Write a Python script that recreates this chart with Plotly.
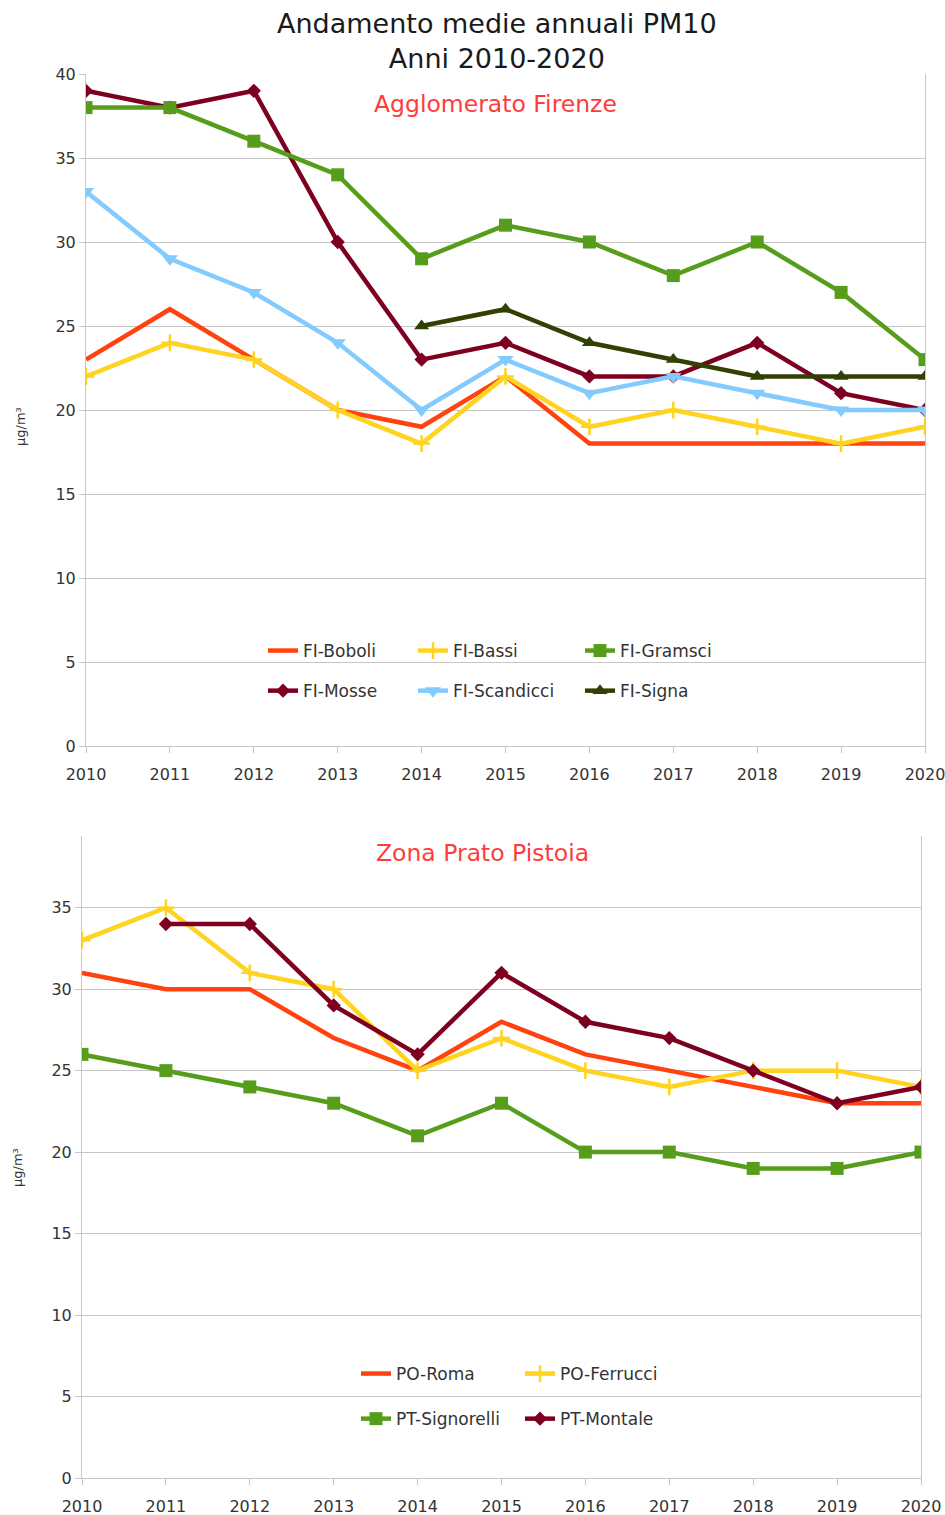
import plotly.graph_objects as go

years = list(range(2010, 2021))

# Agglomerato Firenze (µg/m³)
fi_boboli = [23, 26, 23, 20, 19, 22, 18, 18, 18, 18, 18]
fi_bassi = [22, 24, 23, 20, 18, 22, 19, 20, 19, 18, 19]
fi_gramsci = [38, 38, 36, 34, 29, 31, 30, 28, 30, 27, 23]
fi_mosse = [39, 38, 39, 30, 23, 24, 22, 22, 24, 21, 20]
fi_scandicci = [33, 29, 27, 24, 20, 23, 21, 22, 21, 20, 20]
fi_signa = [None, None, None, None, 25, 26, 24, 23, 22, 22, 22]

# Zona Prato Pistoia (µg/m³)
po_roma = [31, 30, 30, 27, 25, 28, 26, 25, 24, 23, 23]
po_ferrucci = [33, 35, 31, 30, 25, 27, 25, 24, 25, 25, 24]
pt_signorelli = [26, 25, 24, 23, 21, 23, 20, 20, 19, 19, 20]
pt_montale = [None, 34, 34, 29, 26, 31, 28, 27, 25, 23, 24]

# the body margin is removed by a post script, so figure pixels == page pixels
OFF = 0
W, H = 945, 1515
FONT = "DejaVu Sans"
GRID = "#c6c6c6"
TXT = "#333333"


def px_x(p):
    return (p - OFF) / W


def px_y(p):
    return 1 - (p - OFF) / H


C_ORANGE = "#ff420e"
C_YELLOW = "#ffd320"
C_GREEN = "#579d1c"
C_DRED = "#7e0021"
C_LBLUE = "#83caff"
C_OLIVE = "#314004"

fig = go.Figure()


def add(name, vals, color, symbol, size, xa, ya, legend, group, lw=4.5):
    mode = "lines" if symbol is None else "lines+markers"
    marker = dict(color=color, size=size)
    if symbol is not None:
        marker["symbol"] = symbol
        if symbol == "cross-thin":
            marker["line"] = dict(color=color, width=2.5)
    fig.add_trace(go.Scatter(
        x=years, y=vals, name=name, mode=mode,
        line=dict(color=color, width=lw),
        marker=marker, xaxis=xa, yaxis=ya,
        legend=legend, legendgroup=group, connectgaps=False,
    ))


# top chart
add("FI-Boboli", fi_boboli, C_ORANGE, None, 0, "x", "y", "legend", "a1")
add("FI-Mosse", fi_mosse, C_DRED, "diamond", 11, "x", "y", "legend", "a2")
add("FI-Bassi", fi_bassi, C_YELLOW, "cross-thin", 12, "x", "y", "legend2", "b1")
add("FI-Scandicci", fi_scandicci, C_LBLUE, "triangle-down", 14, "x", "y", "legend2", "b2")
add("FI-Gramsci", fi_gramsci, C_GREEN, "square", 13, "x", "y", "legend3", "c1")
add("FI-Signa", fi_signa, C_OLIVE, "triangle-up", 13, "x", "y", "legend3", "c2")

# bottom chart
add("PO-Roma", po_roma, C_ORANGE, None, 0, "x2", "y2", "legend4", "d1")
add("PT-Signorelli", pt_signorelli, C_GREEN, "square", 13, "x2", "y2", "legend4", "d2")
add("PO-Ferrucci", po_ferrucci, C_YELLOW, "cross-thin", 12, "x2", "y2", "legend5", "e1")
add("PT-Montale", pt_montale, C_DRED, "diamond", 11, "x2", "y2", "legend5", "e2")

xcommon = dict(
    range=[2010, 2020], tickmode="linear", tick0=2010, dtick=1,
    showgrid=False, zeroline=False, showline=True, linecolor=GRID, linewidth=1,
    ticks="outside", ticklen=6, tickcolor=GRID,
    tickfont=dict(family=FONT, size=16, color=TXT), ticklabelstandoff=8,
    ticklabeloverflow="allow",
    fixedrange=True, automargin=False,
)
ycommon = dict(
    tickmode="linear", tick0=0, dtick=5,
    showgrid=True, gridcolor=GRID, gridwidth=1, zeroline=False,
    showline=True, mirror=True, linecolor=GRID, linewidth=1,
    ticks="outside", ticklen=6, tickcolor=GRID,
    tickfont=dict(family=FONT, size=16, color=TXT),
    ticklabeloverflow="allow",
    fixedrange=True, automargin=False,
)


def legend_cfg(xpx, ypx, gap):
    return dict(
        x=px_x(xpx), y=px_y(ypx), xanchor="left", yanchor="top",
        orientation="v", traceorder="grouped", tracegroupgap=gap,
        font=dict(family=FONT, size=17, color=TXT),
        bgcolor="rgba(0,0,0,0)", borderwidth=0,
    )


fig.update_layout(
    width=W, height=H,
    margin=dict(l=0, r=0, t=0, b=0, autoexpand=False),
    paper_bgcolor="white", plot_bgcolor="white",
    showlegend=True,
    xaxis=dict(domain=[px_x(86), px_x(925)], anchor="y", **xcommon),
    yaxis=dict(domain=[px_y(746), px_y(74)], anchor="x", range=[0, 40], **ycommon),
    xaxis2=dict(domain=[px_x(82), px_x(921)], anchor="y2", **xcommon),
    yaxis2=dict(domain=[px_y(1478), px_y(836)], anchor="x2", range=[0, 39.4], **ycommon),
    legend=legend_cfg(263, 633, 15),
    legend2=legend_cfg(413, 633, 15),
    legend3=legend_cfg(580, 633, 15),
    legend4=legend_cfg(356, 1356, 20),
    legend5=legend_cfg(520, 1356, 20),
    annotations=[
        dict(text="Andamento medie annuali PM10<br>Anni 2010-2020",
             x=px_x(497), y=px_y(41), xref="paper", yref="paper",
             xanchor="center", yanchor="middle", showarrow=False,
             font=dict(family=FONT, size=27, color="#1a1a1a")),
        dict(text="Agglomerato Firenze",
             x=px_x(495), y=px_y(104), xref="paper", yref="paper",
             xanchor="center", yanchor="middle", showarrow=False,
             font=dict(family=FONT, size=23.5, color="#ff3b3b")),
        dict(text="Zona Prato Pistoia",
             x=px_x(483), y=px_y(853), xref="paper", yref="paper",
             xanchor="center", yanchor="middle", showarrow=False,
             font=dict(family=FONT, size=23.5, color="#ff3b3b")),
        dict(text="µg/m³",
             x=px_x(20), y=px_y(427), xref="paper", yref="paper",
             xanchor="center", yanchor="middle", showarrow=False, textangle=-90,
             font=dict(family=FONT, size=13, color=TXT)),
        dict(text="µg/m³",
             x=px_x(17), y=px_y(1168), xref="paper", yref="paper",
             xanchor="center", yanchor="middle", showarrow=False, textangle=-90,
             font=dict(family=FONT, size=13, color=TXT)),
    ],
)

fig.write_html(
    "out.html",
    config={"displayModeBar": False},
    post_script="document.body.style.margin='0';document.body.style.overflow='hidden';",
)
